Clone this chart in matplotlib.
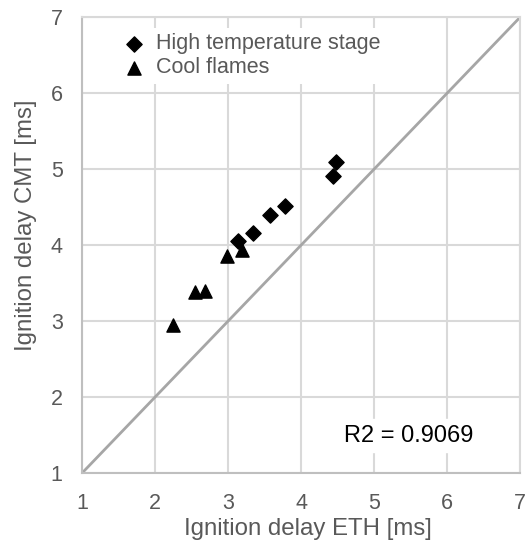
import matplotlib
matplotlib.use("Agg")
import matplotlib.pyplot as plt

plt.rcParams['font.family'] = ['Liberation Sans', 'DejaVu Sans']

# ignition delay [ms], ETH vs CMT
high_eth = [4.48, 4.44, 3.78, 3.58, 3.34, 3.14]
high_cmt = [5.09, 4.91, 4.51, 4.40, 4.16, 4.05]
cool_eth = [3.19, 2.99, 2.69, 2.55, 2.24]
cool_cmt = [3.93, 3.85, 3.40, 3.38, 2.95]
ticks = [1, 2, 3, 4, 5, 6, 7]

fig = plt.figure(figsize=(5.26, 5.52), dpi=100)
ax = fig.add_axes([0.156, 0.143, 0.833, 0.826])

ax.plot([1, 7], [1, 7], color='#a6a6a6', linewidth=2, zorder=2)
ax.scatter(high_eth, high_cmt, marker='D', s=60, color='black', zorder=3,
           label='High temperature stage')
ax.scatter(cool_eth, cool_cmt, marker='^', s=90, color='black', zorder=3,
           label='Cool flames')

ax.set_xlim(1, 7)
ax.set_ylim(1, 7)
ax.set_xticks(ticks)
ax.set_yticks(ticks)
ax.grid(True, color='#d9d9d9', linewidth=1.5, zorder=0)
ax.set_axisbelow(True)
for name, s in ax.spines.items():
    s.set_color('#bfbfbf' if name in ('left', 'bottom') else '#d9d9d9')
    s.set_linewidth(1.5)
ax.tick_params(length=0, labelsize=15.5, labelcolor='#595959', pad=14)

ax.set_xlabel('Ignition delay ETH [ms]', fontsize=17.3, color='#595959')
ax.set_ylabel('Ignition delay CMT [ms]', fontsize=17.3, color='#595959')
ax.xaxis.set_label_coords(0.515, -0.098)
ax.yaxis.set_label_coords(-0.103, 0.543)

leg = ax.legend(loc='upper left', bbox_to_anchor=(0.05, 1.0), frameon=True,
                fontsize=15.5, handletextpad=0.35, labelspacing=0.15,
                borderpad=0.25, handlelength=1.3)
leg.get_frame().set_edgecolor('none')
leg.get_frame().set_alpha(1)
for t in leg.get_texts():
    t.set_color('#595959')

ax.text(5.47, 1.49, 'R2 = 0.9069', fontsize=17, color='black',
        va='center', ha='center', backgroundcolor='white', zorder=4)

fig.savefig('out.png', dpi=100)
